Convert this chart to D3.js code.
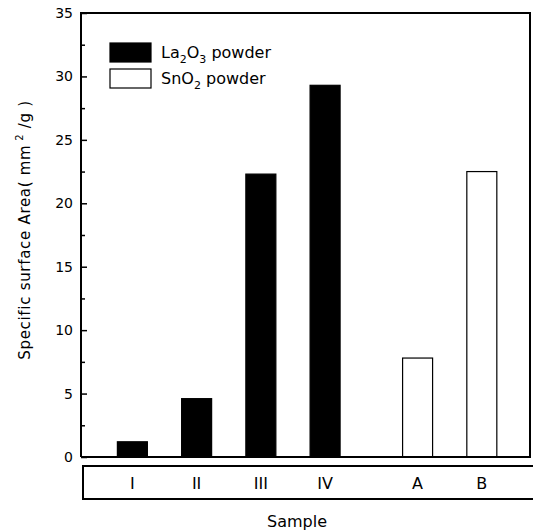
<!DOCTYPE html>
<html>
<head>
<meta charset="utf-8">
<script src="https://cdn.jsdelivr.net/npm/d3@7"></script>
<style>
  body { margin: 0; background: #fff; }
  svg text { font-family: "DejaVu Sans", "Liberation Sans", Arial, sans-serif; fill: #000; }
</style>
</head>
<body>
<svg id="chart" width="533" height="532"></svg>
<script>
var laSamples = ["I", "II", "III", "IV"]
var laValues = [1.2, 4.6, 22.3, 29.3]
var snSamples = ["A", "B"]
var snValues = [7.8, 22.5]
var yTicks = [0, 5, 10, 15, 20, 25, 30, 35]

var svg = d3.select("#chart")
var mLeft = 81, mRight = 530, mTop = 13, mBottom = 457
var groupGap = 1.44   // extra slot offset between the two powder groups
var barW = 30

var x = d3.scaleLinear().domain([0.2, 7.19]).range([mLeft, mRight])
var y = d3.scaleLinear().domain([0, 35]).range([mBottom, mTop])

var data = laSamples.map(function(s, i) {
    return {name: s, value: laValues[i], slot: i + 1, fill: "#000"}
}).concat(snSamples.map(function(s, i) {
    return {name: s, value: snValues[i], slot: laSamples.length + groupGap + i, fill: "#fff"}
}))

// bars
svg.append("g").selectAll("rect")
    .data(data).enter().append("rect")
    .attr("x", function(d) { return x(d.slot) - barW / 2 })
    .attr("y", function(d) { return y(d.value) })
    .attr("width", barW)
    .attr("height", function(d) { return mBottom - y(d.value) })
    .attr("fill", function(d) { return d.fill })
    .attr("stroke", "#000")
    .attr("stroke-width", 1.2)

// y axis with inward ticks
svg.append("g")
    .attr("transform", "translate(" + mLeft + ",0)")
    .call(d3.axisRight(y).tickValues(yTicks).tickSize(6).tickFormat(""))
    .select(".domain").remove()
svg.append("g")
    .attr("transform", "translate(" + mLeft + ",0)")
    .call(d3.axisRight(y).tickValues(d3.range(2.5, 35, 5)).tickSize(4).tickFormat(""))
    .select(".domain").remove()
svg.selectAll(".tick line").attr("stroke", "#000").attr("stroke-width", 1.5)

svg.append("g").selectAll("text")
    .data(yTicks).enter().append("text")
    .attr("x", mLeft - 8)
    .attr("y", function(d) { return y(d) + 5 })
    .attr("text-anchor", "end")
    .attr("font-size", 14)
    .text(function(d) { return d })

// frame
svg.append("path")
    .attr("d", "M" + mLeft + "," + mBottom + "V" + mTop + "H" + mRight + "V" + mBottom + "H" + mLeft)
    .attr("fill", "none")
    .attr("stroke", "#000")
    .attr("stroke-width", 2)

// sample label box
svg.append("path")
    .attr("d", "M540,466H83V499H540")
    .attr("fill", "none")
    .attr("stroke", "#000")
    .attr("stroke-width", 2)

svg.append("g").selectAll("text")
    .data(data).enter().append("text")
    .attr("x", function(d) { return x(d.slot) })
    .attr("y", 489)
    .attr("text-anchor", "middle")
    .attr("font-size", 16)
    .text(function(d) { return d.name })

svg.append("text")
    .attr("x", 297)
    .attr("y", 527)
    .attr("text-anchor", "middle")
    .attr("font-size", 16)
    .text("Sample")

var yl = svg.append("text")
    .attr("transform", "translate(30,230) rotate(-90)")
    .attr("text-anchor", "middle")
    .attr("font-size", 15)
    .attr("letter-spacing", 0.7)
yl.append("tspan").text("Specific surface Area( mm")
yl.append("tspan").attr("dy", -7).attr("font-size", 10).text(" 2")
yl.append("tspan").attr("dy", 7).text(" /g )")

// legend
var legend = [
    {fill: "#000", parts: [["La", 0], ["2", 1], ["O", 0], ["3", 1], [" powder", 0]]},
    {fill: "#fff", parts: [["SnO", 0], ["2", 1], [" powder", 0]]}
]
legend.forEach(function(l, i) {
    var ly = 43 + i * 26
    svg.append("rect")
        .attr("x", 110).attr("y", ly)
        .attr("width", 41).attr("height", 19)
        .attr("fill", l.fill)
        .attr("stroke", "#000")
        .attr("stroke-width", 1.2)
    var t = svg.append("text")
        .attr("x", 161).attr("y", ly + 15)
        .attr("font-size", 16)
    var sub = 0
    l.parts.forEach(function(p) {
        var shift = (p[1] ? 5 : 0) - sub
        sub = p[1] ? 5 : 0
        t.append("tspan")
            .attr("dy", shift)
            .attr("font-size", p[1] ? 11 : 16)
            .text(p[0])
    })
})
</script>
</body>
</html>
